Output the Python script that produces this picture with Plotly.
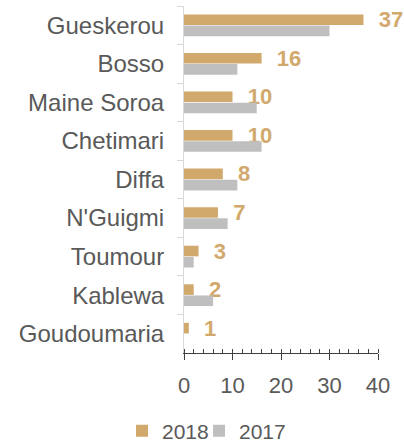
import plotly.graph_objects as go

categories = ["Gueskerou", "Bosso", "Maine Soroa", "Chetimari", "Diffa",
              "N'Guigmi", "Toumour", "Kablewa", "Goudoumaria"]
values_2018 = [37, 16, 10, 10, 8, 7, 3, 2, 1]
values_2017 = [30, 11, 15, 16, 11, 9, 2, 6, 0]
x_ticks = [0, 10, 20, 30, 40]

TAN = "#D2A96C"
GRAY = "#BFBFBF"
FONT = "Liberation Sans, Arial, sans-serif"

fig = go.Figure()
fig.add_trace(go.Bar(
    y=categories, x=values_2018, name="2018", orientation="h",
    marker=dict(color=TAN, line=dict(width=0)),
    text=["\u00a0\u00a0" + str(v) for v in values_2018], textposition="outside",
    textfont=dict(family=FONT, size=22, color=TAN, weight="bold"),
    constraintext="none", cliponaxis=False, legend="legend",
))
fig.add_trace(go.Bar(
    y=categories, x=values_2017, name="2017", orientation="h",
    marker=dict(color=GRAY, line=dict(width=0)), legend="legend2",
))

legend_common = dict(orientation="h", y=-0.225, yanchor="middle",
                     font=dict(size=21, color="#595959"), itemwidth=30,
                     bgcolor="rgba(0,0,0,0)")

fig.update_layout(
    width=404, height=443,
    margin=dict(l=184, r=26, t=6, b=90, autoexpand=False),
    paper_bgcolor="white", plot_bgcolor="white",
    barmode="group", bargap=0.42, bargroupgap=0.05,
    font=dict(family=FONT, color="#595959"),
    showlegend=True,
    legend=dict(x=-0.3196, xanchor="left", **legend_common),
    legend2=dict(x=0.0773, xanchor="left", **legend_common),
)
fig.update_yaxes(
    autorange="reversed", type="category",
    showline=True, linecolor="#D9D9D9", linewidth=1,
    ticks="outside", tickson="boundaries", ticklen=6, tickcolor="#D9D9D9",
    tickfont=dict(size=24, color="#595959"), ticklabelstandoff=14,
    showgrid=False, zeroline=False,
)
fig.update_xaxes(
    range=[0, 40], tickvals=x_ticks, ticktext=[str(t) for t in x_ticks],
    showline=True, linecolor="#404040", linewidth=1,
    ticks="outside", ticklen=6, tickcolor="#404040",
    minor=dict(ticks="inside", ticklen=4, dtick=2, tickcolor="#404040", showgrid=False),
    tickfont=dict(size=22, color="#595959"), ticklabelstandoff=7,
    showgrid=False, zeroline=False,
)

fig.write_html("out.html", config={"displayModeBar": False},
               post_script="document.body.style.margin='0';document.body.style.overflow='hidden';")
